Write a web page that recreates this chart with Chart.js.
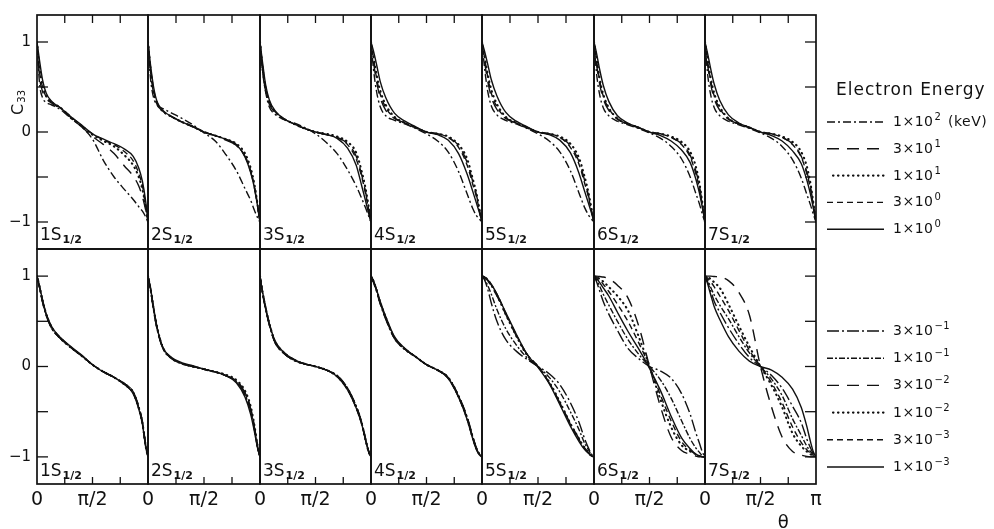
<!DOCTYPE html>
<html>
<head>
<meta charset="utf-8">
<script src="https://cdn.jsdelivr.net/npm/chart.js@4.4.0/dist/chart.umd.min.js"></script>
<style>
  body { margin: 0; background: #fff; width: 994px; height: 529px; overflow: hidden; position: relative; }
  canvas { position: absolute; }
</style>
</head>
<body>
<script>
// angle grid (degrees, 0..180 = 0..pi)
const theta = [0, 4, 9, 15, 24, 38, 55, 72, 90, 108, 125, 142, 156, 165, 171, 176, 180];
const states = ['1S', '2S', '3S', '4S', '5S', '6S', '7S'];

// legend labels: mantissa x 10^exp
const topMant = ['1', '3', '1', '3', '1'];
const topExp = ['2', '1', '1', '0', '0'];
const botMant = ['3', '1', '3', '1', '3', '1'];
const botExp = ['\u22121', '\u22121', '\u22122', '\u22122', '\u22123', '\u22123'];

// upper row: 1e2, 3e1, 1e1, 3e0, 1e0 keV
const top1S = [
  [1, .55, .38, .33, .30, .25, .15, .06, -.08, -.32, -.50, -.64, -.75, -.83, -.88, -.94, -1],
  [1, .62, .45, .37, .32, .26, .16, .06, -.05, -.14, -.24, -.38, -.49, -.60, -.72, -.86, -1],
  [1, .72, .52, .40, .33, .27, .16, .07, -.03, -.10, -.16, -.26, -.37, -.50, -.64, -.82, -1],
  [1, .68, .50, .39, .33, .27, .17, .07, -.02, -.09, -.14, -.22, -.32, -.46, -.60, -.80, -1],
  [1, .80, .58, .43, .34, .27, .17, .08, -.02, -.08, -.13, -.19, -.27, -.40, -.55, -.76, -1]
];
const top2S = [
  [1, .60, .38, .30, .26, .21, .15, .08, -.01, -.10, -.25, -.43, -.63, -.76, -.87, -.95, -1],
  [1, .68, .43, .30, .23, .17, .11, .06, 0, -.04, -.09, -.15, -.27, -.44, -.62, -.82, -1],
  [1, .70, .45, .31, .23, .17, .11, .06, 0, -.04, -.08, -.13, -.24, -.40, -.58, -.80, -1],
  [1, .72, .47, .32, .23, .17, .11, .06, 0, -.04, -.08, -.15, -.27, -.43, -.60, -.80, -1],
  [1, .75, .50, .33, .24, .17, .11, .06, 0, -.04, -.08, -.14, -.28, -.45, -.62, -.82, -1]
];
const top3S = [
  [1, .68, .45, .28, .20, .14, .10, .05, -.02, -.12, -.24, -.42, -.60, -.74, -.84, -.93, -1],
  [1, .70, .46, .31, .22, .15, .09, .04, 0, -.03, -.06, -.13, -.27, -.48, -.66, -.85, -1],
  [1, .72, .48, .33, .23, .15, .09, .04, 0, -.02, -.05, -.11, -.23, -.44, -.62, -.82, -1],
  [1, .74, .50, .34, .23, .15, .09, .04, 0, -.03, -.06, -.14, -.30, -.50, -.68, -.86, -1],
  [1, .78, .53, .36, .24, .15, .09, .04, 0, -.03, -.07, -.18, -.37, -.60, -.76, -.90, -1]
];
const top4S = [
  [1, .70, .45, .28, .18, .13, .09, .04, -.02, -.10, -.22, -.44, -.69, -.85, -.93, -.97, -1],
  [1, .78, .56, .38, .24, .15, .10, .05, 0, -.02, -.06, -.15, -.34, -.55, -.70, -.87, -1],
  [1, .84, .64, .46, .30, .17, .10, .05, 0, -.02, -.05, -.14, -.30, -.52, -.68, -.86, -1],
  [1, .82, .60, .42, .27, .16, .10, .05, 0, -.02, -.06, -.17, -.37, -.58, -.72, -.88, -1],
  [1, .90, .75, .56, .38, .21, .12, .06, 0, -.03, -.09, -.24, -.47, -.66, -.79, -.90, -1]
];
const top5S = [
  [1, .72, .46, .29, .19, .13, .09, .04, -.02, -.10, -.22, -.43, -.68, -.84, -.92, -.97, -1],
  [1, .79, .57, .39, .25, .15, .10, .05, 0, -.02, -.06, -.15, -.33, -.54, -.70, -.87, -1],
  [1, .85, .65, .47, .31, .17, .10, .05, 0, -.02, -.05, -.13, -.29, -.50, -.67, -.85, -1],
  [1, .83, .62, .43, .28, .16, .10, .05, 0, -.02, -.06, -.17, -.36, -.57, -.72, -.88, -1],
  [1, .90, .76, .58, .40, .22, .12, .06, 0, -.03, -.09, -.23, -.46, -.66, -.79, -.90, -1]
];
const top6S = [
  [1, .66, .42, .27, .18, .12, .08, .04, -.01, -.07, -.16, -.30, -.50, -.68, -.80, -.92, -1],
  [1, .76, .54, .37, .24, .14, .09, .05, 0, -.02, -.06, -.13, -.26, -.43, -.60, -.82, -1],
  [1, .82, .60, .42, .27, .15, .09, .05, 0, -.02, -.05, -.11, -.22, -.38, -.57, -.80, -1],
  [1, .80, .58, .40, .26, .15, .09, .05, 0, -.02, -.06, -.14, -.28, -.46, -.63, -.83, -1],
  [1, .88, .70, .52, .34, .18, .10, .05, 0, -.04, -.10, -.20, -.34, -.52, -.68, -.85, -1]
];
const top7S = [
  [1, .66, .42, .27, .18, .12, .08, .04, -.01, -.07, -.16, -.31, -.51, -.69, -.81, -.92, -1],
  [1, .76, .54, .37, .24, .14, .09, .05, 0, -.02, -.06, -.13, -.27, -.44, -.61, -.82, -1],
  [1, .82, .61, .43, .28, .15, .09, .05, 0, -.02, -.05, -.11, -.22, -.38, -.57, -.80, -1],
  [1, .80, .58, .40, .26, .15, .09, .05, 0, -.02, -.06, -.14, -.28, -.46, -.63, -.83, -1],
  [1, .88, .71, .53, .35, .19, .10, .05, 0, -.04, -.10, -.21, -.35, -.53, -.69, -.86, -1]
];

// lower row: 3e-1, 1e-1, 3e-2, 1e-2, 3e-3, 1e-3 keV
const bot1S = [
  [1, .87, .71, .56, .42, .31, .21, .12, .02, -.06, -.12, -.19, -.28, -.44, -.61, -.85, -1],
  [1, .88, .72, .57, .42, .31, .21, .12, .02, -.06, -.12, -.19, -.28, -.45, -.62, -.86, -1],
  [1, .88, .72, .57, .43, .31, .21, .12, .02, -.06, -.12, -.20, -.29, -.45, -.62, -.86, -1],
  [1, .89, .73, .58, .43, .31, .21, .12, .02, -.06, -.12, -.20, -.29, -.46, -.63, -.87, -1],
  [1, .89, .73, .58, .43, .32, .21, .12, .02, -.06, -.12, -.20, -.30, -.46, -.63, -.87, -1],
  [1, .89, .74, .58, .44, .32, .22, .13, .02, -.06, -.12, -.20, -.30, -.47, -.64, -.88, -1]
];
const bot2S = [
  [1, .85, .62, .40, .20, .09, .03, 0, -.03, -.06, -.10, -.17, -.31, -.49, -.69, -.89, -1],
  [1, .86, .63, .41, .20, .09, .03, 0, -.03, -.06, -.10, -.17, -.32, -.50, -.70, -.89, -1],
  [1, .86, .64, .41, .21, .09, .03, 0, -.03, -.06, -.10, -.16, -.29, -.47, -.67, -.88, -1],
  [1, .86, .64, .42, .21, .09, .03, 0, -.03, -.06, -.09, -.15, -.27, -.44, -.65, -.87, -1],
  [1, .87, .65, .42, .21, .09, .03, 0, -.03, -.06, -.10, -.16, -.29, -.46, -.66, -.88, -1],
  [1, .87, .65, .42, .21, .10, .04, .01, -.03, -.06, -.10, -.18, -.34, -.53, -.72, -.90, -1]
];
const bot3S = [
  [1, .81, .64, .46, .27, .15, .07, .03, 0, -.04, -.10, -.24, -.44, -.62, -.79, -.93, -1],
  [1, .82, .64, .47, .27, .15, .07, .03, 0, -.04, -.10, -.24, -.44, -.62, -.80, -.93, -1],
  [1, .82, .65, .47, .28, .15, .07, .03, 0, -.04, -.10, -.25, -.45, -.63, -.80, -.93, -1],
  [1, .83, .65, .48, .28, .16, .07, .03, 0, -.04, -.11, -.25, -.45, -.63, -.81, -.94, -1],
  [1, .83, .66, .48, .28, .16, .08, .03, 0, -.04, -.11, -.25, -.46, -.64, -.81, -.94, -1],
  [1, .83, .66, .48, .29, .16, .08, .03, 0, -.04, -.11, -.26, -.46, -.64, -.81, -.94, -1]
];
const bot4S = [
  [1, .93, .83, .69, .52, .31, .19, .11, .02, -.04, -.12, -.32, -.56, -.77, -.90, -.97, -1],
  [1, .94, .84, .70, .53, .31, .19, .11, .02, -.04, -.12, -.33, -.57, -.78, -.91, -.97, -1],
  [1, .94, .84, .70, .53, .32, .19, .11, .02, -.04, -.12, -.33, -.57, -.78, -.91, -.97, -1],
  [1, .94, .85, .71, .54, .32, .19, .11, .02, -.04, -.12, -.33, -.58, -.79, -.91, -.97, -1],
  [1, .95, .85, .71, .54, .32, .20, .11, .02, -.04, -.13, -.34, -.58, -.79, -.91, -.98, -1],
  [1, .95, .85, .72, .55, .33, .20, .11, .02, -.04, -.13, -.34, -.59, -.80, -.92, -.98, -1]
];
const bot5S = [
  [1, .96, .86, .70, .50, .30, .17, .08, 0, -.08, -.20, -.40, -.62, -.80, -.90, -.97, -1],
  [1, .97, .90, .80, .63, .42, .24, .10, 0, -.12, -.28, -.50, -.70, -.85, -.92, -.98, -1],
  [1, .99, .95, .89, .78, .58, .34, .14, 0, -.18, -.40, -.63, -.80, -.90, -.95, -.99, -1],
  [1, .99, .96, .90, .79, .58, .34, .13, 0, -.17, -.39, -.63, -.80, -.90, -.95, -.99, -1],
  [1, .99, .96, .90, .80, .59, .35, .14, 0, -.18, -.40, -.64, -.81, -.91, -.96, -.99, -1],
  [1, .99, .96, .91, .80, .60, .36, .14, -.01, -.19, -.42, -.66, -.83, -.92, -.96, -.99, -1]
];
const bot6S = [
  [1, .94, .84, .72, .58, .40, .20, .09, 0, -.05, -.13, -.30, -.53, -.73, -.85, -.95, -1],
  [1, .96, .89, .80, .68, .50, .30, .14, 0, -.15, -.35, -.60, -.80, -.90, -.95, -.99, -1],
  [1, 1, .995, .99, .97, .90, .76, .46, 0, -.45, -.78, -.93, -.97, -.99, -1, -1, -1],
  [1, .99, .97, .94, .88, .78, .62, .34, 0, -.37, -.67, -.87, -.94, -.97, -.99, -1, -1],
  [1, .99, .96, .91, .83, .69, .50, .27, 0, -.32, -.60, -.83, -.93, -.97, -.99, -1, -1],
  [1, .98, .93, .87, .78, .60, .39, .20, -.02, -.27, -.55, -.79, -.91, -.97, -.99, -1, -1]
];
const bot7S = [
  [1, .94, .84, .72, .60, .43, .25, .10, 0, -.10, -.24, -.44, -.62, -.80, -.90, -.97, -1],
  [1, .96, .88, .79, .68, .53, .33, .15, 0, -.14, -.32, -.58, -.76, -.88, -.94, -.98, -1],
  [1, 1, 1, .995, .99, .95, .82, .57, 0, -.45, -.78, -.94, -.98, -.995, -1, -1, -1],
  [1, .99, .97, .93, .87, .69, .45, .22, 0, -.21, -.45, -.74, -.88, -.94, -.97, -.99, -1],
  [1, .98, .94, .88, .78, .62, .40, .18, 0, -.18, -.40, -.67, -.84, -.92, -.96, -.99, -1],
  [1, .92, .80, .66, .52, .33, .17, .06, 0, -.04, -.12, -.25, -.45, -.66, -.83, -.95, -1]
];

const topPanels = [top1S, top2S, top3S, top4S, top5S, top6S, top7S];
const botPanels = [bot1S, bot2S, bot3S, bot4S, bot5S, bot6S, bot7S];

// line styles (same order as the series)
const topDash = [[8, 3, 2, 3], [12, 8], [0.5, 4.5], [6, 4], []];
const botDash = [[12, 3, 2, 3], [6, 2, 2, 2], [12, 8], [0.5, 4.5], [6, 4], []];

// panel edges in page pixels
const colEdges = [37, 148, 260, 371, 482, 594, 705, 816];
const rowEdges = [15, 249, 484];

const FONT = '"DejaVu Sans", sans-serif';
const INK = '#111';

function drawPower(ctx, x, y, mant, exp) {
  ctx.textAlign = 'left';
  ctx.textBaseline = 'alphabetic';
  ctx.font = '14px ' + FONT;
  const base = mant + '\u00d710';
  ctx.fillText(base, x, y);
  const w = ctx.measureText(base).width;
  ctx.font = '10px ' + FONT;
  ctx.fillText(exp, x + w + 1, y - 6);
}

const panelFrame = {
  id: 'panelFrame',
  afterDraw(chart, args, o) {
    const { ctx, chartArea: a } = chart;
    const x = chart.scales.x, y = chart.scales.y;
    ctx.save();
    ctx.strokeStyle = INK;
    ctx.fillStyle = INK;
    ctx.setLineDash([]);
    ctx.lineWidth = 1.7;
    ctx.strokeRect(a.left, a.top, a.right - a.left, a.bottom - a.top);

    // inward theta ticks
    ctx.lineWidth = 1.3;
    [45, 90, 135].forEach(v => {
      const px = x.getPixelForValue(v);
      ctx.beginPath();
      if (o.row === 0) { ctx.moveTo(px, a.top); ctx.lineTo(px, a.top + 8); }
      else { ctx.moveTo(px, a.bottom); ctx.lineTo(px, a.bottom - 7); }
      ctx.stroke();
    });

    // inward C33 ticks on the outer sides
    [-1, -0.5, 0, 0.5, 1].forEach(v => {
      const py = y.getPixelForValue(v);
      if (o.col === 0) {
        ctx.beginPath(); ctx.moveTo(a.left, py); ctx.lineTo(a.left + 11, py); ctx.stroke();
      }
      if (o.col === 6) {
        ctx.beginPath(); ctx.moveTo(a.right, py); ctx.lineTo(a.right - 11, py); ctx.stroke();
      }
    });

    // state label
    ctx.textAlign = 'left';
    ctx.textBaseline = 'alphabetic';
    ctx.font = '17px ' + FONT;
    const lbl = states[o.col];
    const by = a.bottom - (o.row === 0 ? 9 : 8);
    ctx.fillText(lbl, a.left + 3, by);
    const lw = ctx.measureText(lbl).width;
    ctx.font = 'bold 11px ' + FONT;
    ctx.fillText('1/2', a.left + 4 + lw, by + 3);

    // y tick labels and axis title
    if (o.col === 0) {
      ctx.font = '15px ' + FONT;
      ctx.textAlign = 'right';
      ctx.textBaseline = 'middle';
      [[1, '1'], [0, '0'], [-1, '\u22121']].forEach(([v, t]) => {
        ctx.fillText(t, a.left - 6, y.getPixelForValue(v));
      });
      if (o.row === 0) {
        ctx.save();
        ctx.translate(a.left - 14, y.getPixelForValue(0.19));
        ctx.rotate(-Math.PI / 2);
        ctx.textAlign = 'left';
        ctx.textBaseline = 'alphabetic';
        ctx.font = '16px ' + FONT;
        ctx.fillText('C', 0, 0);
        const cw = ctx.measureText('C').width;
        ctx.font = '10px ' + FONT;
        ctx.fillText('33', cw + 1, 2);
        ctx.restore();
      }
    }

    // theta tick labels under the lower row
    if (o.row === 1) {
      ctx.font = '19px ' + FONT;
      ctx.textAlign = 'center';
      ctx.textBaseline = 'middle';
      const ly = a.bottom + 16;
      ctx.fillText('0', x.getPixelForValue(0), ly);
      ctx.fillText('\u03c0/2', x.getPixelForValue(90), ly);
      if (o.col === 6) {
        ctx.fillText('\u03c0', x.getPixelForValue(180), ly);
        ctx.font = '18px ' + FONT;
        ctx.fillText('\u03b8', x.getPixelForValue(127), a.bottom + 39);
      }
    }

    // legend beside the last column
    if (o.col === 6) {
      const mant = o.row === 0 ? topMant : botMant;
      const exp = o.row === 0 ? topExp : botExp;
      const lx = a.right + 11, tx = a.right + 77;
      const y0 = o.row === 0 ? a.top + 107 : a.top + 82;
      const step = o.row === 0 ? 26.8 : 27.2;
      if (o.row === 0) {
        ctx.font = '17px ' + FONT;
        ctx.textAlign = 'left';
        ctx.textBaseline = 'alphabetic';
        ctx.letterSpacing = '1px';
        ctx.fillText('Electron Energy', a.right + 20, a.top + 80);
      }
      chart.data.datasets.forEach((d, i) => {
        const ly = y0 + i * step;
        ctx.save();
        ctx.lineWidth = d.borderWidth;
        ctx.lineCap = d.borderCapStyle || 'butt';
        ctx.setLineDash(d.borderDash);
        ctx.beginPath();
        ctx.moveTo(lx + (d.borderCapStyle === 'round' ? 6 : 0), ly);
        ctx.lineTo(lx + 57, ly);
        ctx.stroke();
        ctx.restore();
        ctx.letterSpacing = '0.5px';
        drawPower(ctx, tx, ly + 4, mant[i], exp[i]);
        if (o.row === 0 && i === 0) {
          ctx.font = '14px ' + FONT;
          ctx.fillText('(keV)', a.right + 132, ly + 4);
        }
      });
    }
    ctx.restore();
  }
};

function makePanel(row, col) {
  const series = row === 0 ? topPanels[col] : botPanels[col];
  const dashes = row === 0 ? topDash : botDash;
  const mant = row === 0 ? topMant : botMant;
  const exp = row === 0 ? topExp : botExp;
  const PL = colEdges[col], PR = colEdges[col + 1];
  const PT = rowEdges[row], PB = rowEdges[row + 1];
  const ML = col === 0 ? 37 : 6;
  const MR = col === 6 ? 178 : 6;
  const MT = 6;
  const MB = row === 1 ? 45 : 6;

  const canvas = document.createElement('canvas');
  canvas.width = PR - PL + ML + MR;
  canvas.height = PB - PT + MT + MB;
  canvas.style.left = (PL - ML) + 'px';
  canvas.style.top = (PT - MT) + 'px';
  document.body.appendChild(canvas);

  const datasets = series.map((vals, i) => {
    const dotted = dashes[i].length === 2 && dashes[i][0] < 1;
    return {
      label: mant[i] + '\u00d710^' + exp[i],
      data: vals.map((v, k) => ({ x: theta[k], y: v })),
      borderColor: INK,
      borderWidth: dotted ? 2.1 : 1.4,
      borderDash: dashes[i],
      borderCapStyle: dotted ? 'round' : 'butt',
      pointRadius: 0,
      fill: false,
      cubicInterpolationMode: 'monotone'
    };
  });

  new Chart(canvas.getContext('2d'), {
    type: 'line',
    data: { datasets: datasets },
    options: {
      responsive: false,
      animation: false,
      devicePixelRatio: 1,
      layout: { padding: { left: ML, right: MR, top: MT, bottom: MB } },
      scales: {
        x: { type: 'linear', min: 0, max: 180, display: false },
        y: { type: 'linear', min: -1.3, max: 1.3, display: false }
      },
      plugins: {
        legend: { display: false },
        tooltip: { enabled: false },
        panelFrame: { row: row, col: col }
      }
    },
    plugins: [panelFrame]
  });
}

for (let r = 0; r < 2; r++) {
  for (let c = 0; c < 7; c++) {
    makePanel(r, c);
  }
}
</script>
</body>
</html>
